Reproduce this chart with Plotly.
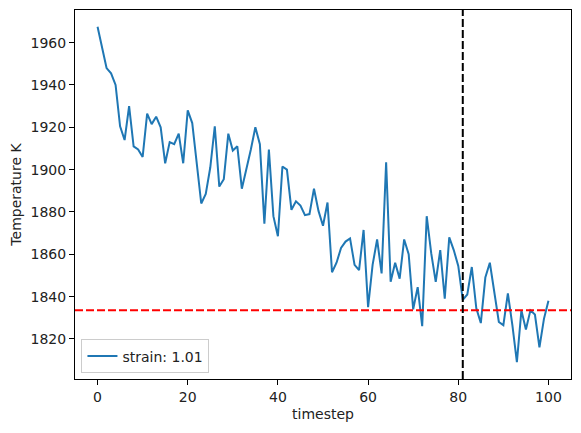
"""Temperature vs timestep line chart"""
import plotly.graph_objects as go

# timestep 0..100
timestep = list(range(101))
temperature = [
    1967.5, 1958, 1948, 1945.5, 1940, 1920.5, 1914, 1930, 1911, 1909.5,
    1906, 1926.5, 1921.5, 1925, 1920, 1903, 1913, 1912, 1917, 1903,
    1928, 1922, 1902, 1884, 1888.5, 1901, 1920.5, 1892, 1895.5, 1917,
    1909, 1911, 1891, 1900, 1909.5, 1920, 1912, 1874.5, 1909.5, 1878,
    1868.5, 1901.5, 1900, 1881, 1885, 1883, 1878.5, 1879, 1891, 1880.5,
    1873.5, 1884.5, 1851.5, 1856, 1863, 1866, 1867.5, 1855, 1852.5, 1871.5,
    1835, 1855, 1867, 1851, 1903.5, 1847, 1856, 1848.5, 1867, 1860,
    1834, 1844.5, 1826, 1878, 1860.5, 1847, 1862, 1839, 1868, 1862,
    1854.5, 1838.5, 1841, 1854, 1834.5, 1827.5, 1849, 1856, 1842, 1828,
    1826.5, 1841.5, 1826.5, 1809, 1833.5, 1824.5, 1833.5, 1831.5, 1816, 1829.5,
    1838,
]
series_name = "strain: 1.01"
ref_temperature = 1833.5
ref_timestep = 81

FONT = "DejaVu Sans"

# matplotlib-style 5% margins
ymin, ymax = min(temperature), max(temperature)
ypad = (ymax - ymin) * 0.05
xpad = (timestep[-1] - timestep[0]) * 0.05

fig = go.Figure(go.Scatter(
    x=timestep,
    y=temperature,
    mode="lines",
    name=series_name,
    line=dict(color="#1f77b4", width=2),
))
fig.add_hline(y=ref_temperature, line=dict(color="red", width=2, dash="8px,3px"))
fig.add_vline(x=ref_timestep, line=dict(color="black", width=2, dash="8px,3px"))

axis_common = dict(
    showgrid=False, zeroline=False, automargin=False,
    showline=True, linecolor="black", linewidth=1, mirror=True,
    ticks="outside", ticklen=5, tickcolor="black", tickwidth=1,
    tickfont=dict(family=FONT, size=14, color="#222222"),
)
# page body has an 8px margin, so the figure is 8px smaller each way
fig.update_layout(
    width=573, height=425,
    margin=dict(l=67, r=10, t=2, b=54),
    paper_bgcolor="white", plot_bgcolor="white",
    font=dict(family=FONT, size=14, color="#222222"),
    xaxis=dict(
        range=[timestep[0] - xpad, timestep[-1] + xpad],
        dtick=20, tick0=0,
        title=dict(text="timestep", standoff=5, font=dict(family=FONT, size=14)),
        **axis_common,
    ),
    yaxis=dict(
        range=[ymin - ypad, ymax + ypad],
        dtick=20, tick0=1820,
        title=dict(text="Temperature K", standoff=7, font=dict(family=FONT, size=14)),
        **axis_common,
    ),
    showlegend=True,
    legend=dict(
        x=0.013, y=0.015, xanchor="left", yanchor="bottom",
        bordercolor="#cccccc", borderwidth=1, bgcolor="rgba(255,255,255,0.8)",
        font=dict(family=FONT, size=14), itemwidth=30,
    ),
)

fig.write_html("out.html")
